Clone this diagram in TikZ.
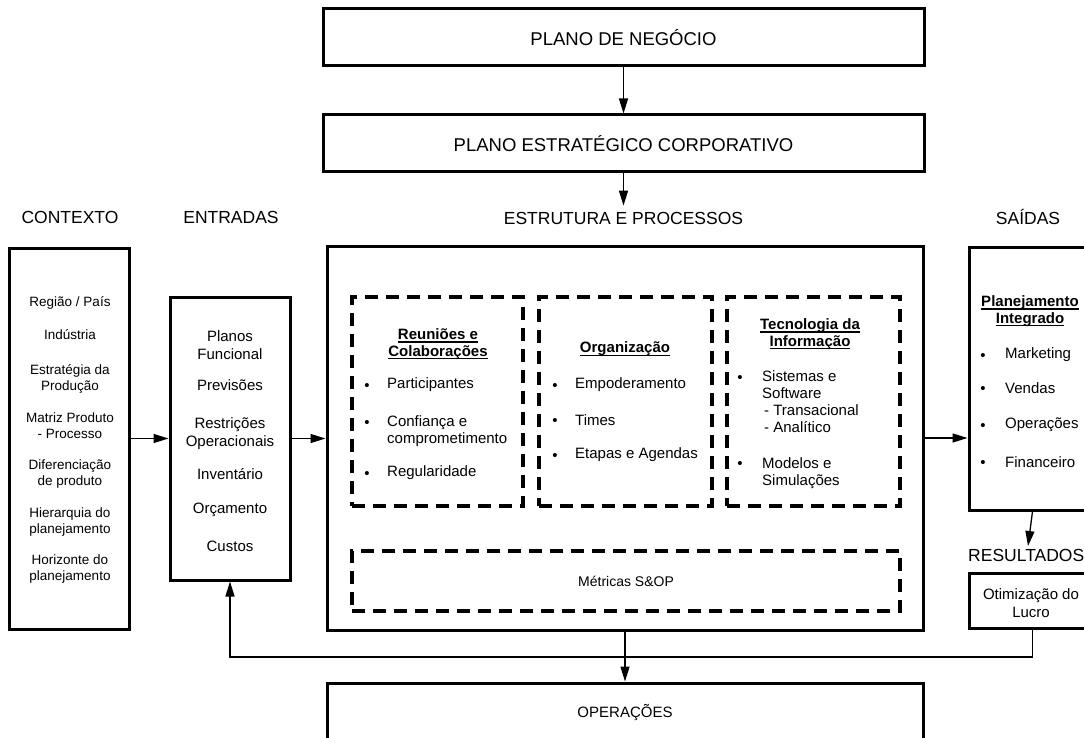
\documentclass[tikz,border=0pt]{standalone}
\usepackage{fontspec}
\setmainfont{Liberation Sans}
\usetikzlibrary{arrows.meta}

\newcommand{\titulo}[1]{\setbox0\hbox{#1}\rlap{\rule[-3pt]{\wd0}{1.3pt}}\box0}

\begin{document}
\begin{tikzpicture}[
  x=1pt, y=-1pt,
  caixa/.style={draw, line width=3pt, inner sep=0pt},
  tracejada/.style={draw, line width=3.2pt, dash pattern=on 13pt off 8pt, inner sep=0pt},
  cabec/.style={font=\fontsize{17.5}{21}\selectfont, inner sep=6pt},
  texto/.style={font=\fontsize{15}{18}\selectfont, align=center, inner sep=0pt},
  ctxt/.style={font=\fontsize{13.5}{16}\selectfont, align=center, inner sep=0pt},
  titbox/.style={font=\fontsize{15}{16.5}\selectfont\bfseries, align=center, inner sep=0pt},
  item/.style={font=\fontsize{15}{17}\selectfont, align=left, anchor=west, inner sep=0pt},
  marca/.style={font=\fontsize{15}{17}\selectfont, inner sep=0pt, yshift=-2pt},
  seta/.style={draw, line width=1.3pt, -{Triangle[length=15pt,width=9pt]}}
]
  \useasboundingbox (0,0) rectangle (1084,738);

  \node[caixa, minimum width=601pt, minimum height=57pt, font=\fontsize{18.5}{22}\selectfont] (neg) at (623.5,37.5) {PLANO DE NEGÓCIO};
  \node[caixa, minimum width=601pt, minimum height=57pt, font=\fontsize{18.5}{22}\selectfont] (est) at (623.5,143.5) {PLANO ESTRATÉGICO CORPORATIVO};

  \node[cabec] (hdCtx) at (70,217) {CONTEXTO};
  \node[cabec] (hdEnt) at (231,217) {ENTRADAS};
  \node[cabec] (hdEst) at (623.5,218) {ESTRUTURA E PROCESSOS};
  \node[cabec] (hdSai) at (1028,217) {SAÍDAS};
  \node[cabec, anchor=west, inner sep=0pt] (hdRes) at (968,555) {RESULTADOS};
  \coordinate (resTip) at (1028,546);

  \node[caixa, minimum width=120pt, minimum height=381pt] (ctx) at (69,438.5) {};
  \node[caixa, minimum width=120pt, minimum height=283pt] (ent) at (230,438.5) {};
  \node[caixa, minimum width=596pt, minimum height=384pt] (estr) at (625,438) {};
  \node[caixa, minimum width=127pt, minimum height=263pt] (saidas) at (1032.5,378.5) {};
  \node[caixa, minimum width=127pt, minimum height=55pt] (res) at (1032.5,600.5) {};
  \node[caixa, minimum width=596pt, minimum height=58pt, font=\fontsize{15}{18}\selectfont] (ops) at (625,712) {OPERAÇÕES};

  \node[tracejada, minimum width=171pt, minimum height=209pt] (reun) at (437.5,401.5) {};
  \node[tracejada, minimum width=173pt, minimum height=209pt] (org) at (625.5,401.5) {};
  \node[tracejada, minimum width=173pt, minimum height=209pt] (ti) at (813.5,401.5) {};
  \node[tracejada, minimum width=548pt, minimum height=60pt, font=\fontsize{14}{17}\selectfont] (met) at (626,581) {Métricas S\&OP};

  \foreach \y/\t [count=\i] in {303/{Região / País}, 335/Indústria, 379/{Estratégia da\\Produção}, 426/{Matriz Produto\\- Processo}, 474/{Diferenciação\\de produto}, 522/{Hierarquia do\\planejamento}, 569/{Horizonte do\\planejamento}}
    \node[ctxt] (ctx\i) at (70,\y) {\t};

  \foreach \y/\t [count=\i] in {345/{Planos\\Funcional}, 385/Previsões, 434/{Restrições\\Operacionais}, 474/Inventário, 510/Orçamento, 546/Custos}
    \node[texto] (ent\i) at (230,\y) {\t};

  \node[titbox] (reunT) at (438,344) {\titulo{Reuniões e}\\\titulo{Colaborações}};
  \foreach \y/\b/\t [count=\i] in {385/385/Participantes, 431/422/{Confiança e\\comprometimento}, 473/473/Regularidade}{
    \node[marca] (reunB\i) at (367,\b) {\textbullet};
    \node[item] (reunI\i) at (387,\y) {\t};
  }

  \node[titbox] (orgT) at (625,349) {\titulo{Organização}};
  \foreach \y/\t [count=\i] in {385/Empoderamento, 420/Times, 455/{Etapas e Agendas}}{
    \node[marca] (orgB\i) at (555,\y) {\textbullet};
    \node[item] (orgI\i) at (575,\y) {\t};
  }

  \node[titbox] (tiT) at (810,334) {\titulo{Tecnologia da}\\\titulo{Informação}};
  \foreach \y/\b/\t [count=\i] in {402/377/{Sistemas e\\Software\\\hspace*{2pt}- Transacional\\\hspace*{2pt}- Analítico}, 473/463/{Modelos e\\Simulações}}{
    \node[marca] (tiB\i) at (740,\b) {\textbullet};
    \node[item] (tiI\i) at (762,\y) {\t};
  }

  \node[titbox] (saiT) at (1030,311) {\titulo{Planejamento}\\\titulo{Integrado}};
  \foreach \y/\t [count=\i] in {355/Marketing, 388/Vendas, 425/Operações, 462/Financeiro}{
    \node[marca] (saiB\i) at (983,\y) {\textbullet};
    \node[item] (saiI\i) at (1005,\y) {\t};
  }

  \node[texto] (resT) at (1031,603) {Otimização do\\Lucro};

  \foreach \a/\b in {neg/est, est/hdEst, ctx/ent, estr/ops}
    \draw[seta] (\a) -- (\b);
  \draw[seta] (ent.east) -- (ent.east -| estr.west);
  \draw[seta] (estr.east) -- (estr.east -| saidas.west);
  \draw[seta] (saidas.south) -- (resTip);
  \coordinate (fb) at (625,657);
  \draw[seta] (res.south) |- (fb) -| (ent.south);
\end{tikzpicture}
\end{document}
